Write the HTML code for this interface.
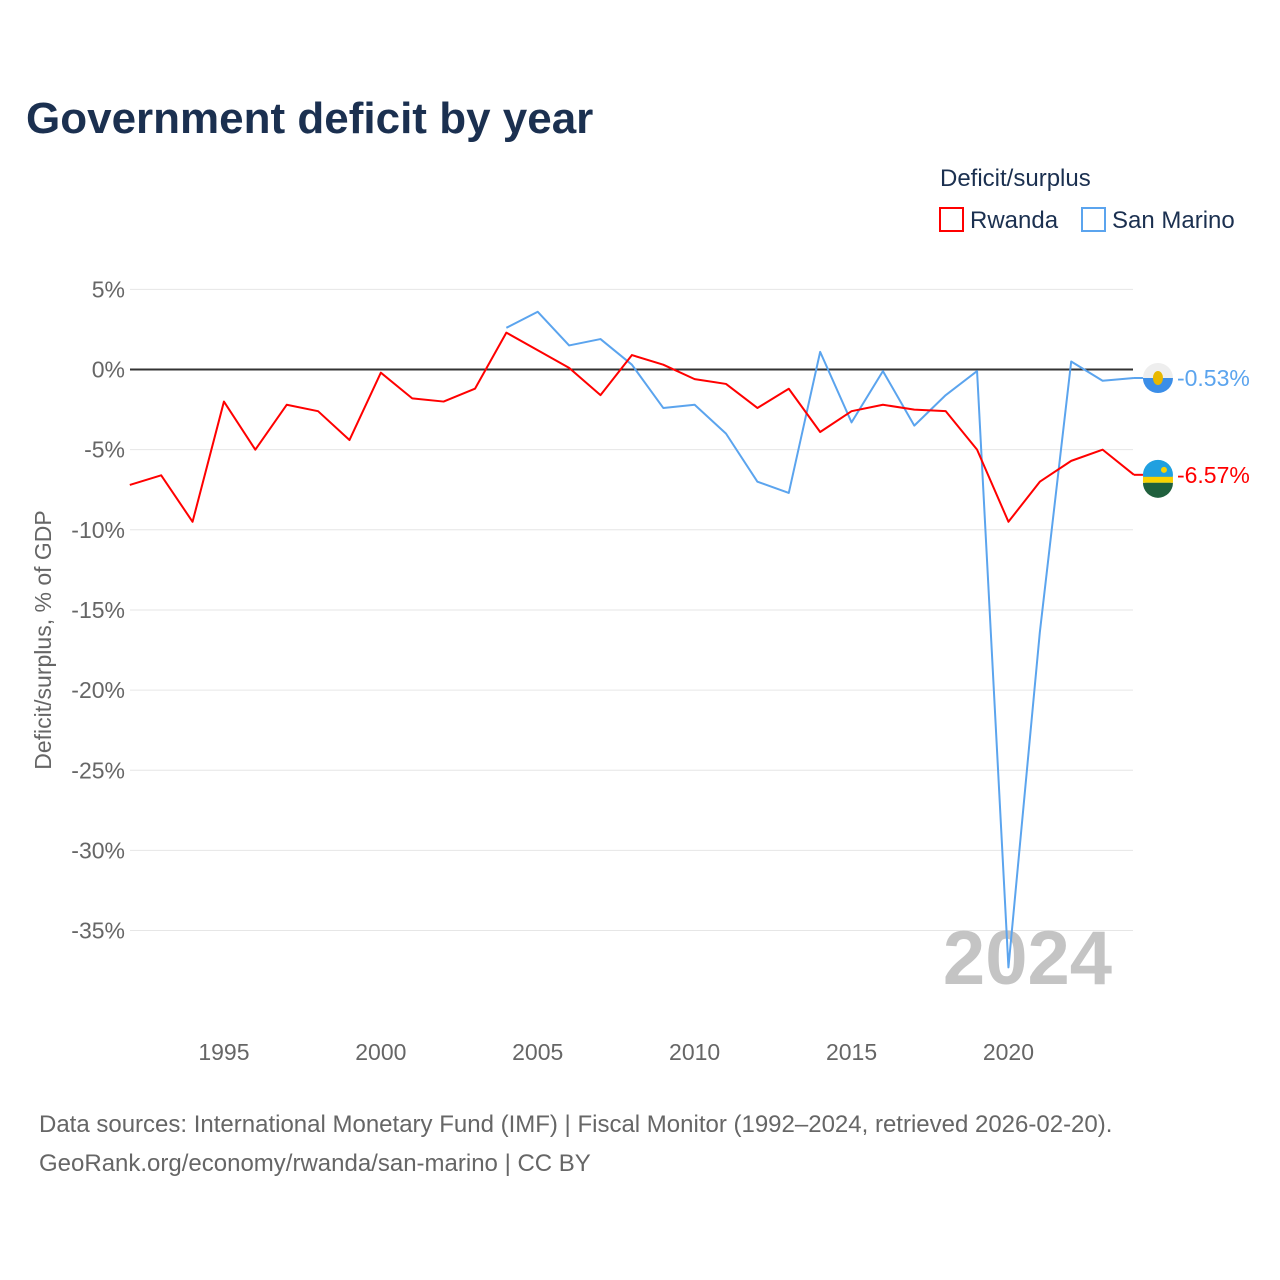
<!DOCTYPE html>
<html><head><meta charset="utf-8"><style>
body{margin:0;background:#fff;font-family:"Liberation Sans",sans-serif;}
</style></head><body>
<svg id="chart" width="1280" height="1280" xmlns="http://www.w3.org/2000/svg" style="display:block">
<text x="26" y="133" font-size="44" font-weight="bold" fill="#1b3050">Government deficit by year</text>
<text x="940" y="186" font-size="24" fill="#1b3050">Deficit/surplus</text>
<g><rect x="940" y="208" width="23" height="23" fill="none" stroke="#ff0000" stroke-width="2"/><text x="970" y="228" font-size="24" fill="#1b3050">Rwanda</text></g>
<g><rect x="1082" y="208" width="23" height="23" fill="none" stroke="#5ba4ee" stroke-width="2"/><text x="1112" y="228" font-size="24" fill="#1b3050">San Marino</text></g>
<g id="grid"></g><g id="yticks"></g><g id="xticks"></g>
<text transform="translate(51,640) rotate(-90)" text-anchor="middle" font-size="23" fill="#666">Deficit/surplus, % of GDP</text>
<text x="1112" y="984" text-anchor="end" font-size="76" font-weight="bold" fill="#c4c4c4">2024</text>
<g id="series"></g>
<text x="39" y="1132" font-size="24" fill="#666">Data sources: International Monetary Fund (IMF) | Fiscal Monitor (1992–2024, retrieved 2026-02-20).</text>
<text x="39" y="1171" font-size="24" fill="#666">GeoRank.org/economy/rwanda/san-marino | CC BY</text>
</svg>
<script>
const rwYears=[1992,1993,1994,1995,1996,1997,1998,1999,2000,2001,2002,2003,2004,2005,2006,2007,2008,2009,2010,2011,2012,2013,2014,2015,2016,2017,2018,2019,2020,2021,2022,2023,2024];
const rwValues=[-7.2,-6.6,-9.5,-2.0,-5.0,-2.2,-2.6,-4.4,-0.2,-1.8,-2.0,-1.2,2.3,1.2,0.1,-1.6,0.9,0.3,-0.6,-0.9,-2.4,-1.2,-3.9,-2.6,-2.2,-2.5,-2.6,-5.0,-9.5,-7.0,-5.7,-5.0,-6.57];
const smYears=[2004,2005,2006,2007,2008,2009,2010,2011,2012,2013,2014,2015,2016,2017,2018,2019,2020,2021,2022,2023,2024];
const smValues=[2.6,3.6,1.5,1.9,0.3,-2.4,-2.2,-4.0,-7.0,-7.7,1.1,-3.3,-0.1,-3.5,-1.6,-0.1,-37.3,-16.4,0.5,-0.7,-0.53];
const yTicks=[5,0,-5,-10,-15,-20,-25,-30,-35];
const xTicks=[1995,2000,2005,2010,2015,2020];
const NS="http://www.w3.org/2000/svg";
const x=y=>129.8+(y-1992)*31.38;
const yS=v=>369.5-v*16.03;
function mk(tag,attrs,parent){const e=document.createElementNS(NS,tag);for(const k in attrs)e.setAttribute(k,attrs[k]);parent.appendChild(e);return e;}
const grid=document.getElementById('grid'),yt=document.getElementById('yticks'),xt=document.getElementById('xticks'),ser=document.getElementById('series');
yTicks.forEach(v=>{
 const l=mk('line',{x1:130,x2:1133,y1:yS(v),y2:yS(v),stroke:v===0?'#333':'#e6e6e6','stroke-width':v===0?2:1},grid);
 
 
 const t=mk('text',{x:125,y:yS(v)+8,'text-anchor':'end','font-size':23,fill:'#666'},yt);
 t.textContent=v+'%';
 
 
});
xTicks.forEach(v=>{
 const t=mk('text',{x:x(v),y:1060,'text-anchor':'middle','font-size':23,fill:'#666'},xt);
 t.textContent=v;
 
 
});
function line(years,vals,color,name){
 const p=mk('polyline',{points:years.map((y,i)=>x(y)+','+yS(vals[i])).join(' '),fill:'none',stroke:color,'stroke-width':2,'stroke-linejoin':'round'},ser);
 
 
}
line(smYears,smValues,'#5ba4ee','san-marino-line');
line(rwYears,rwValues,'#ff0000','rwanda-line');
function endMarker(years,vals,color,name,flag){
 const cx=x(years[years.length-1])+24,cy=yS(vals[vals.length-1]);
 const g=mk('g',{},ser);
 
 
 const lc=mk('line',{x1:x(years[years.length-1]),x2:cx-15,y1:cy,y2:cy,stroke:color,'stroke-width':2},g);
 if(flag==='rw'){
  mk('circle',{cx:cx,cy:cy,r:15,fill:'#20a0e0'},g);
  mk('rect',{x:cx-15,y:cy+2,width:30,height:6,fill:'#fad201'},g);
  mk('path',{d:`M${cx-15},${cy+8} h30 a15,15 0 0 1 -30,0z`,fill:'#20603d'},g);
  mk('circle',{cx:cx+6,cy:cy-5,r:3,fill:'#fad201'},g);
 }else{
  mk('path',{d:`M${cx-15},${cy} a15,15 0 0 1 30,0z`,fill:'#eee'},g);
  mk('path',{d:`M${cx-15},${cy} a15,15 0 0 0 30,0z`,fill:'#3b8ee8'},g);
  mk('ellipse',{cx:cx,cy:cy,rx:5,ry:7,fill:'#e8b800'},g);
 }
 const t=mk('text',{x:cx+19,y:cy+8,'font-size':23,fill:color},ser);
 t.textContent=vals[vals.length-1].toFixed(2)+'%';
 
 
}
endMarker(smYears,smValues,'#5ba4ee','san-marino','sm');
endMarker(rwYears,rwValues,'#ff0000','rwanda','rw');
</script>
</body></html>
